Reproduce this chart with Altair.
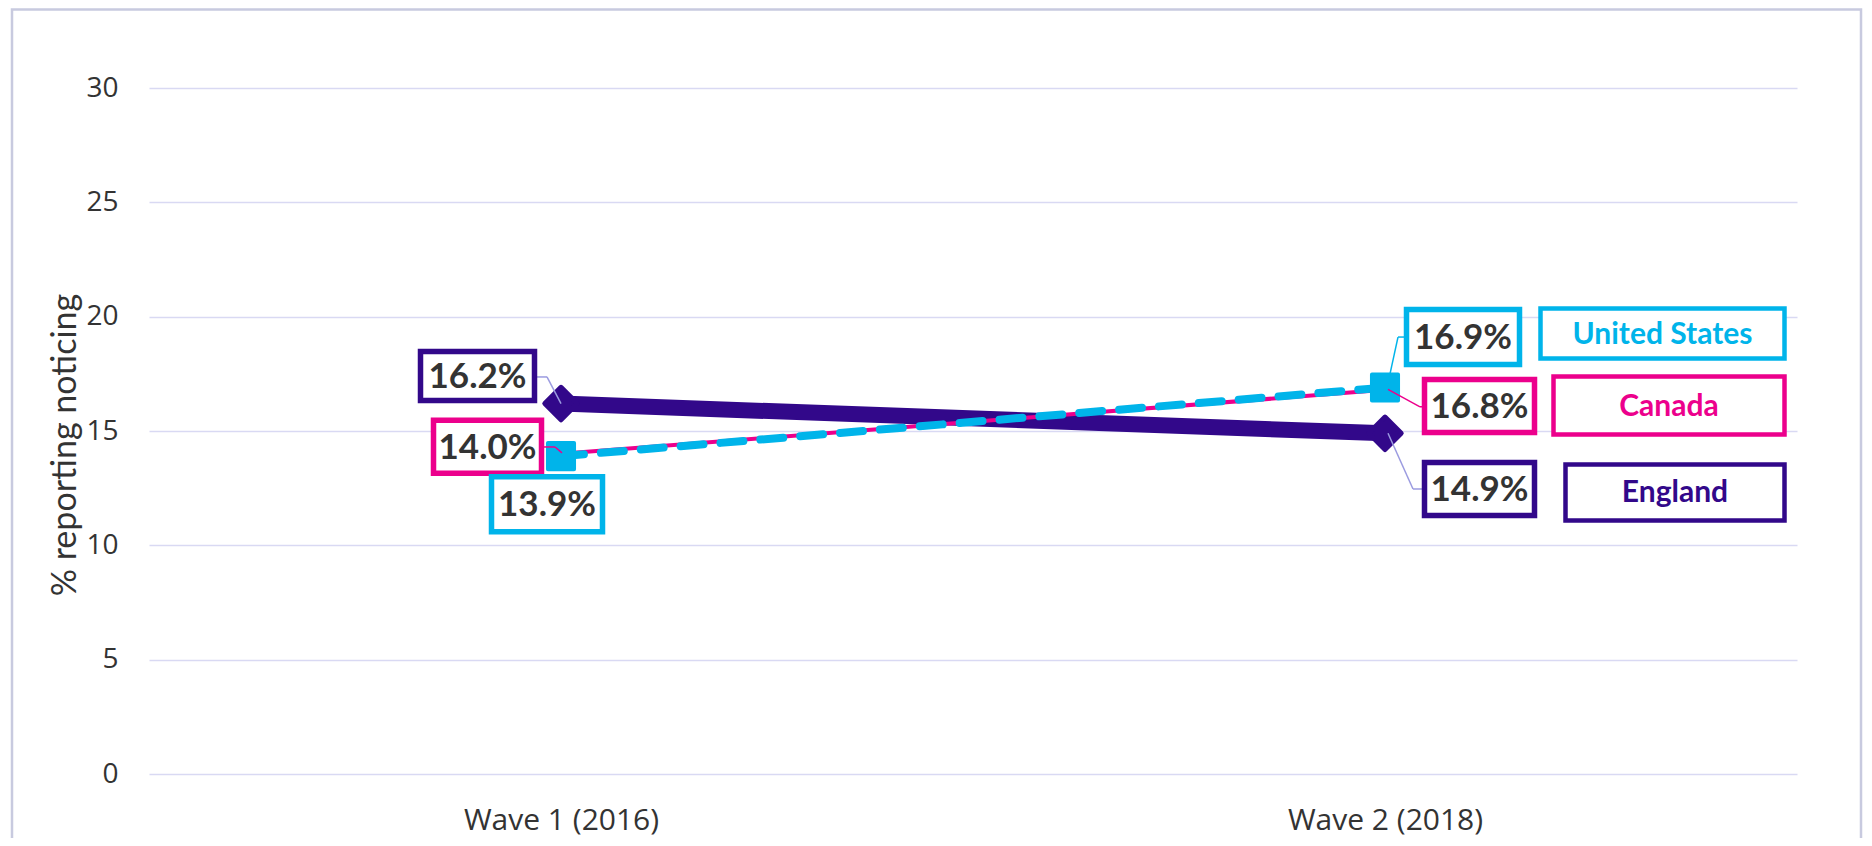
import altair as alt
import pandas as pd

# ---------------- data ----------------
waves = ["Wave 1 (2016)", "Wave 2 (2018)"]
wave_idx = [1, 2]
england = [16.2, 14.9]
canada = [14.0, 16.8]
us = [13.9, 16.9]
series_names = ["United States", "Canada", "England"]
y_ticks = [0, 5, 10, 15, 20, 25, 30]
y_title = "% reporting noticing"

# ---------------- style ----------------
C_US = "#00B4EA"
C_CA = "#EC008C"
C_EN = "#32088A"
C_TXT = "#333333"
C_GRID = "#D9D9F3"
C_FRAME = "#C8CADF"
C_LEAD_EN = "#9B9BE0"

W, H = 1648, 686
PAD = {"left": 141, "top": 80, "right": 67, "bottom": 64}

label_expr = " : ".join(
    f"datum.value == {i} ? '{w}'" for i, w in zip(wave_idx, waves)
) + " : ''"

X = alt.X(
    "w:Q",
    scale=alt.Scale(domain=[0.5, 2.5], nice=False, zero=False),
    axis=alt.Axis(
        values=wave_idx, labelExpr=label_expr, grid=False, domain=False,
        ticks=False, tickSize=0, labelPadding=31, labelFont="Open Sans",
        labelFontSize=30, labelColor=C_TXT, title=None, labelLimit=0,
    ),
)
Y = alt.Y(
    "v:Q",
    scale=alt.Scale(domain=[0, 30], nice=False, zero=True),
    axis=alt.Axis(
        values=y_ticks, grid=True, gridColor=C_GRID, gridWidth=1.6,
        domain=False, ticks=False, tickSize=0, labelPadding=31,
        labelFont="Open Sans", labelFontSize=28, labelColor=C_TXT, title=None,
    ),
)


def series_df(vals):
    return pd.DataFrame({"w": wave_idx, "v": vals,
                         "t": [f"{v:.1f}%" for v in vals]})


def one(vals, i, text=None):
    return pd.DataFrame({"w": [wave_idx[i]], "v": [vals[i]],
                         "t": [text if text is not None else f"{vals[i]:.1f}%"]})


layers = []

# frame around the chart (top / left / right borders)
frame_df = pd.DataFrame({"a": [0]})
layers.append(
    alt.Chart(frame_df).mark_rect(fill="white", fillOpacity=0, stroke=C_FRAME,
                                  strokeWidth=2.5)
    .encode(x=alt.value(-137), x2=alt.value(1712), y=alt.value(-78.5), y2=alt.value(780))
)

# lines
layers.append(alt.Chart(series_df(england)).mark_line(color=C_EN, strokeWidth=16)
              .encode(x=X, y=Y))
layers.append(alt.Chart(series_df(england)).mark_point(
    shape="diamond", filled=True, fill=C_EN, stroke=C_EN, strokeWidth=5,
    strokeJoin="round", size=1050, opacity=1).encode(x=X, y=Y))
layers.append(alt.Chart(series_df(canada)).mark_line(color=C_CA, strokeWidth=4)
              .encode(x=X, y=Y))
layers.append(alt.Chart(series_df(us)).mark_line(
    color=C_US, strokeWidth=8, strokeDash=[23, 17], strokeCap="round")
    .encode(x=X, y=Y))
layers.append(alt.Chart(series_df(us)).mark_point(
    shape="square", filled=True, fill=C_US, stroke=C_US, strokeWidth=4,
    strokeJoin="round", size=680, opacity=1).encode(x=X, y=Y))


def leader(df, pts, color):
    out = []
    for (a, b), (c, d) in zip(pts[:-1], pts[1:]):
        out.append(
            alt.Chart(df).mark_rule(color=color, strokeWidth=1.5,
                                    xOffset=a, yOffset=b, x2Offset=c, y2Offset=d)
            .encode(x=X, x2=alt.X2("w"), y=Y, y2=alt.Y2("v"))
        )
    return out


def box(df, center, size, color, sw, text_color, font, fsize, weight="bold"):
    cx, cy = center
    bw, bh = size
    r = alt.Chart(df).mark_rect(
        fill="white", stroke=color, strokeWidth=sw,
        xOffset=cx - bw / 2, x2Offset=cx + bw / 2,
        yOffset=cy - bh / 2, y2Offset=cy + bh / 2,
    ).encode(x=X, x2=alt.X2("w"), y=Y, y2=alt.Y2("v"))
    t = alt.Chart(df).mark_text(
        font=font, fontSize=fsize, fontWeight=weight, color=text_color,
        align="center", baseline="middle", dx=cx, dy=cy + 1,
    ).encode(x=X, y=Y, text="t:N")
    return [r, t]


# leaders
layers += leader(one(england, 0), [(-24, -26.6), (-14, -26.6), (0, 0)], C_LEAD_EN)
layers += leader(one(canada, 0), [(-17, -6.9), (-6, -6.9), (1, -1)], C_CA)
layers += leader(one(us, 1), [(2, 0), (13, -50.5), (19, -50.5)], C_US)
layers += leader(one(canada, 1), [(3, -0.5), (35, 17), (37, 17)], C_CA)
layers += leader(one(england, 1), [(3, 0), (28, 55.7), (37, 55.7)], C_LEAD_EN)

# value labels
LF, LS = "Lato", 35
layers += box(one(england, 0), (-83.5, -27.6), (114, 49), C_EN, 5.5, C_TXT, LF, LS)
layers += box(one(canada, 0), (-73.5, -7), (108, 53), C_CA, 5.5, C_TXT, LF, LS)
layers += box(one(us, 0), (-14, 48), (111, 55), C_US, 5.5, C_TXT, LF, LS)
layers += box(one(us, 1), (78, -50.5), (113, 55), C_US, 5.5, C_TXT, LF, LS)
layers += box(one(canada, 1), (94.5, 16.2), (110, 53), C_CA, 5.5, C_TXT, LF, LS)
layers += box(one(england, 1), (94.5, 55.7), (110, 53), C_EN, 5.5, C_TXT, LF, LS)

# series name boxes
layers += box(one(us, 1, series_names[0]), (277.5, -54), (244, 50), C_US, 4.5, C_US, LF, 30)
layers += box(one(canada, 1, series_names[1]), (284, 15.7), (231, 58), C_CA, 4.5, C_CA, LF, 30)
layers += box(one(england, 1, series_names[2]), (290, 59.2), (219, 56), C_EN, 4.5, C_EN, LF, 30)

# y axis title
layers.append(
    alt.Chart(pd.DataFrame({"t": [y_title]})).mark_text(
        font="Lato", fontSize=34, color=C_TXT, angle=270,
        align="center", baseline="middle")
    .encode(x=alt.value(-83), y=alt.value(357), text="t:N")
)

chart = alt.layer(*layers).properties(
    width=W, height=H, padding=PAD, autosize="none", background="white"
).configure_view(stroke=None)

chart.save("out.html", embed_options={"renderer": "svg", "actions": False})
